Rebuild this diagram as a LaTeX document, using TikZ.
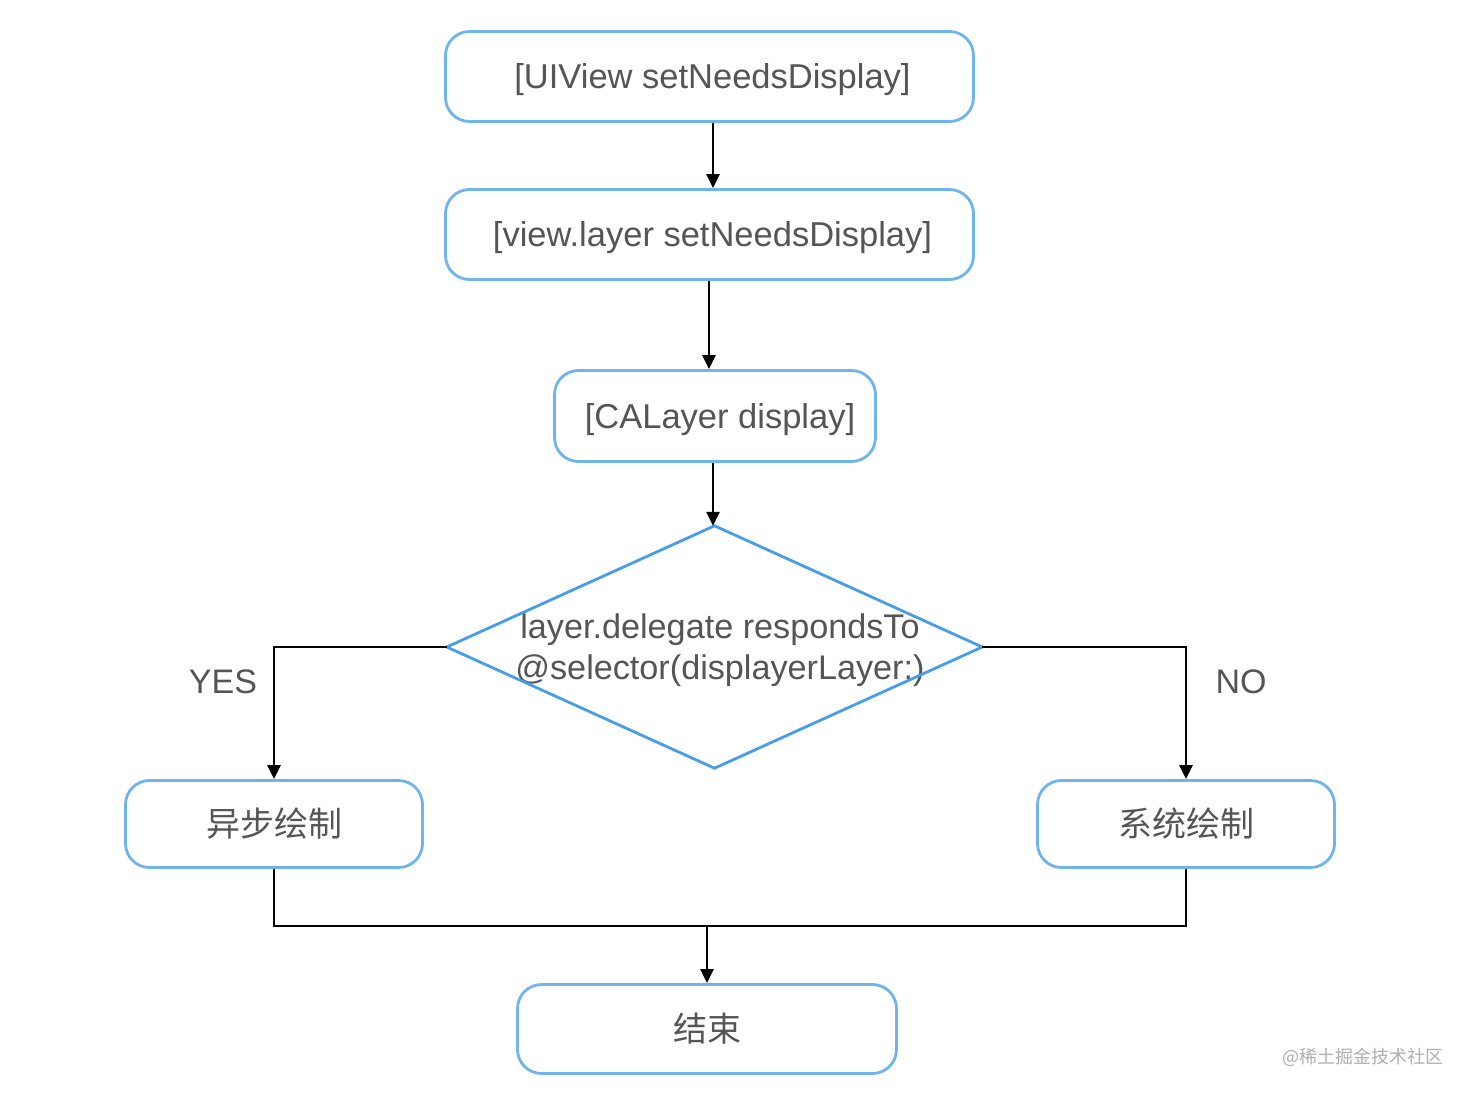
\documentclass[tikz,border=0pt]{standalone}
\usepackage{fontspec}
\setmainfont{Liberation Sans}
\newfontfamily\cjk{Noto Sans CJK SC}
\usetikzlibrary{arrows.meta}
\definecolor{boxblue}{RGB}{112,180,236}
\definecolor{diablue}{RGB}{72,157,232}
\definecolor{txtgray}{RGB}{85,85,85}
\definecolor{wmgray}{RGB}{175,175,175}
\begin{document}
\begin{tikzpicture}[x=1pt,y=-1pt,
 box/.style={draw=boxblue, line width=2.8pt, rounded corners=24pt, fill=white, text=txtgray, font=\fontsize{34.5}{40}\selectfont, inner sep=0pt},
 latbox/.style={box, text height=31pt, text depth=7pt},
 cjkbox/.style={box, font=\cjk\fontsize{34}{40}\selectfont},
 conn/.style={line width=2.8pt, draw=black},
 arr/.style={conn, -{Triangle[length=14pt,width=13pt]}},
 lbl/.style={text=txtgray, font=\fontsize{34}{40}\selectfont, inner sep=0pt}]
\useasboundingbox[fill=white] (0,0) rectangle (1472,1096);
\node[latbox, minimum width=528, minimum height=90] (b1) at (709.5,76.5) {\hspace{6pt}[UIView setNeedsDisplay]};
\node[latbox, minimum width=528, minimum height=90] (b2) at (709.5,234.5) {\hspace{6pt}[view.layer setNeedsDisplay]};
\node[latbox, minimum width=321, minimum height=91] (b3) at (715,416) {\hspace{10pt}[CALayer display]};
\node[inner sep=0pt, minimum width=535, minimum height=242, text=txtgray, font=\fontsize{34.2}{41}\selectfont, text height=52pt, text depth=32.4pt] (dec) at (714.5,647) {\hspace{11pt}\begin{tabular}{@{}c@{}}layer.delegate respondsTo\\@selector(displayerLayer:)\end{tabular}};
\draw[diablue, line width=2.8pt, line join=miter] (dec.north) -- (dec.east) -- (dec.south) -- (dec.west) -- cycle;
\node[cjkbox, minimum width=297, minimum height=87] (lb) at (274,824) {异步绘制};
\node[cjkbox, minimum width=297, minimum height=87] (rb) at (1186,824) {系统绘制};
\node[cjkbox, minimum width=379, minimum height=89] (end) at (707,1029) {结束};
\coordinate (join) at (707,926);
\node[lbl] (yes) at (223,682) {YES};
\node[lbl] (no) at (1241,682) {NO};
\node[text=wmgray, font=\cjk\fontsize{18}{20}\selectfont, inner sep=0pt] (wm) at (1363,1057) {@稀土掘金技术社区};
\draw[arr] (713,0 |- b1.south) -- (713,0 |- b2.north);
\draw[arr] (709,0 |- b2.south) -- (709,0 |- b3.north);
\draw[arr] (713,0 |- b3.south) -- (713,0 |- dec.north);
\draw[arr] (dec.west) -| (lb.north);
\draw[arr] (dec.east) -| (rb.north);
\draw[conn] (lb.south) |- (join) -| (rb.south);
\draw[arr] (join) -- (end.north);
\end{tikzpicture}
\end{document}
